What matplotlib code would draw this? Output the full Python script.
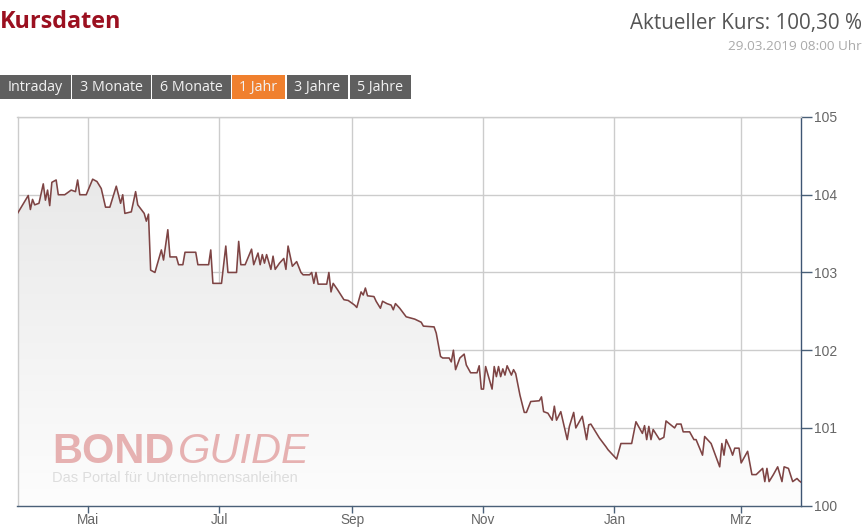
import numpy as np
import pandas as pd
import matplotlib

matplotlib.use("Agg")
import matplotlib.pyplot as plt
from matplotlib.patches import Rectangle

plt.rcParams["font.family"] = ["Liberation Sans", "DejaVu Sans"]

# Kursverlauf, 1 Jahr (Tage seit 29.03.2018, Kurs in %)
start_date = "2018-03-29"
end_date = "2019-03-29"
days = [
    0, 5, 6, 7, 8, 10, 12, 13, 14, 15,
    16, 18, 19, 22, 25, 27, 28, 29, 32, 35,
    37, 39, 41, 43, 46, 48, 49, 50, 53, 55,
    56, 59, 60, 61, 62, 64, 67, 68, 70, 71,
    74, 75, 77, 78, 83, 84, 89, 90, 91, 95,
    97, 98, 102, 103, 104, 106, 109, 110, 112, 113,
    114, 115, 116, 118, 119, 120, 122, 124, 125, 126,
    128, 130, 132, 133, 136, 137, 138, 139, 140, 144,
    145, 146, 147, 149, 152, 154, 157, 158, 160, 161,
    162, 163, 166, 167, 169, 170, 172, 174, 175, 176,
    178, 181, 185, 188, 189, 194, 195, 197, 198, 201,
    202, 203, 204, 206, 208, 209, 211, 214, 215, 216,
    217, 218, 221, 222, 223, 224, 225, 226, 227, 228,
    230, 231, 232, 234, 236, 237, 239, 243, 244, 245,
    247, 249, 250, 251, 253, 256, 257, 259, 260, 263,
    265, 266, 267, 271, 274, 275, 279, 281, 286, 288,
    291, 292, 293, 294, 295, 296, 299, 301, 302, 306,
    307, 309, 310, 313, 315, 316, 319, 320, 323, 327,
    328, 329, 330, 332, 333, 334, 336, 337, 340, 342,
    344, 347, 348, 349, 350, 352, 354, 356, 357, 359,
    361, 363, 364, 365,
]
kurs = [
    103.76, 103.99, 103.81, 103.94, 103.87, 103.89, 104.14, 103.93, 104.06, 103.86,
    104.16, 104.19, 104.00, 104.00, 104.06, 104.04, 104.19, 104.00, 104.00, 104.20,
    104.17, 104.08, 103.84, 103.84, 104.11, 103.89, 104.00, 103.76, 103.78, 104.04,
    103.87, 103.76, 103.66, 103.75, 103.03, 103.00, 103.29, 103.16, 103.55, 103.20,
    103.20, 103.10, 103.10, 103.26, 103.26, 103.10, 103.10, 103.29, 102.86, 102.86,
    103.34, 103.00, 103.00, 103.40, 103.10, 103.10, 103.30, 103.10, 103.25, 103.10,
    103.23, 103.12, 103.23, 103.04, 103.21, 103.04, 103.12, 103.18, 103.04, 103.34,
    103.08, 103.14, 103.00, 102.97, 102.97, 103.00, 102.86, 103.00, 102.85, 102.85,
    103.00, 102.75, 102.86, 102.78, 102.65, 102.64, 102.58, 102.55, 102.75, 102.71,
    102.80, 102.70, 102.69, 102.63, 102.54, 102.63, 102.60, 102.58, 102.52, 102.60,
    102.54, 102.43, 102.40, 102.36, 102.31, 102.30, 102.22, 101.92, 101.90, 101.90,
    101.85, 102.00, 101.75, 101.90, 101.95, 101.81, 101.71, 101.71, 101.80, 101.50,
    101.50, 101.79, 101.50, 101.79, 101.66, 101.79, 101.66, 101.76, 101.68, 101.80,
    101.68, 101.75, 101.70, 101.42, 101.20, 101.20, 101.34, 101.35, 101.40, 101.21,
    101.19, 101.10, 101.28, 101.10, 101.21, 100.85, 101.02, 101.20, 101.00, 101.15,
    100.85, 101.04, 101.05, 100.87, 100.76, 100.72, 100.60, 100.80, 100.80, 101.08,
    100.93, 101.03, 100.85, 101.02, 100.85, 100.98, 100.85, 100.88, 101.09, 101.00,
    101.05, 101.05, 100.95, 100.95, 100.85, 100.85, 100.65, 100.89, 100.80, 100.50,
    100.80, 100.65, 100.85, 100.73, 100.65, 100.74, 100.74, 100.55, 100.70, 100.40,
    100.40, 100.48, 100.31, 100.48, 100.31, 100.40, 100.50, 100.31, 100.50, 100.48,
    100.31, 100.35, 100.32, 100.30,
]
month_ticks = ["2018-05-01", "2018-07-01", "2018-09-01", "2018-11-01", "2019-01-01", "2019-03-01"]
month_labels = ["Mai", "Jul", "Sep", "Nov", "Jan", "Mrz"]
y_ticks = [100, 101, 102, 103, 104, 105]
buttons = ["Intraday", "3 Monate", "6 Monate", "1 Jahr", "3 Jahre", "5 Jahre"]
active_button = "1 Jahr"

dates = pd.Timestamp(start_date) + pd.to_timedelta(days, unit="D")

W, H = 864, 529
fig = plt.figure(figsize=(W / 100, H / 100), dpi=100)
fig.patch.set_facecolor("white")

# header overlay in pixel coordinates
hdr = fig.add_axes([0, 0, 1, 1])
hdr.set_xlim(0, W)
hdr.set_ylim(H, 0)
hdr.axis("off")

hdr.text(0, 22, "Kursdaten", fontsize=16.8, fontweight="bold", color="#9b1020",
         family=["Open Sans", "DejaVu Sans"], va="center", ha="left")
hdr.text(862, 23, "Aktueller Kurs: 100,30 %", fontsize=14.9, color="#555555",
         family=["Open Sans", "DejaVu Sans"], va="center", ha="right")
hdr.text(862, 47, "29.03.2019 08:00 Uhr", fontsize=9.7, color="#aaaaaa",
         family=["Open Sans", "DejaVu Sans"], va="center", ha="right")

btn_x = [0, 72, 152, 232, 287, 350]
btn_w = [71, 79, 79, 53, 61, 61]
for label, bx, bw in zip(buttons, btn_x, btn_w):
    color = "#f0802e" if label == active_button else "#5f5f5f"
    hdr.add_patch(Rectangle((bx, 75), bw, 24, facecolor=color, edgecolor="none"))
    hdr.text(bx + bw / 2, 87.5, label, fontsize=10.3, color="#f2f2f2",
             family=["Open Sans", "DejaVu Sans"], ha="center", va="center")

# watermark
hdr.text(52, 452, "BOND", fontsize=30, fontweight="bold", color="#e3a5a5",
         ha="left", va="center", alpha=0.85)
hdr.text(178, 452, "GUIDE", fontsize=30, style="italic", color="#e3a5a5",
         ha="left", va="center", alpha=0.85)
hdr.text(52, 478, "Das Portal für Unternehmensanleihen", fontsize=10.5,
         color="#dddddd", ha="left", va="center")

# chart
left, right, top, bottom = 17.5, 801.3, 117, 505.7
ax = fig.add_axes([left / W, 1 - bottom / H, (right - left) / W, (bottom - top) / H])
ax.set_zorder(0)
hdr.set_zorder(1)
hdr.patch.set_alpha(0)

x0 = pd.Timestamp(start_date)
x1 = pd.Timestamp(end_date)

poly = ax.fill_between(dates, kurs, 100, facecolor="none", edgecolor="none")
grad = np.linspace(0, 1, 256).reshape(-1, 1)
im = ax.imshow(grad, cmap=matplotlib.colors.LinearSegmentedColormap.from_list(
    "g", ["#fdfdfd", "#e9e9e9"]), aspect="auto",
    extent=[matplotlib.dates.date2num(x0), matplotlib.dates.date2num(x1), 100, 104.2],
    origin="lower", zorder=1)
im.set_clip_path(poly.get_paths()[0], transform=ax.transData)
ax.set_xlim(x0, x1)
ax.set_ylim(100, 105)

ax.plot(dates, kurs, color="#7e4444", linewidth=1.15, zorder=3)

ax.set_xticks(pd.to_datetime(month_ticks))
ax.set_xticklabels(month_labels)
ax.set_yticks(y_ticks)
ax.yaxis.tick_right()
ax.grid(True, color="#cccccc", linewidth=1.0, zorder=0)
ax.set_axisbelow(True)

ax.tick_params(axis="x", length=5, width=1, color="#4a6078", labelsize=9.8,
               labelcolor="#666666", pad=0)
ax.tick_params(axis="y", length=8, width=1, color="#4a6078", labelsize=10,
               labelcolor="#666666", pad=1)

ax.spines["right"].set_color("#3e5573")
ax.spines["bottom"].set_color("#4a6078")
ax.spines["top"].set_color("#cccccc")
ax.spines["left"].set_color("#cccccc")
for s in ax.spines.values():
    s.set_linewidth(1.0)

fig.savefig("out.png", dpi=100)
